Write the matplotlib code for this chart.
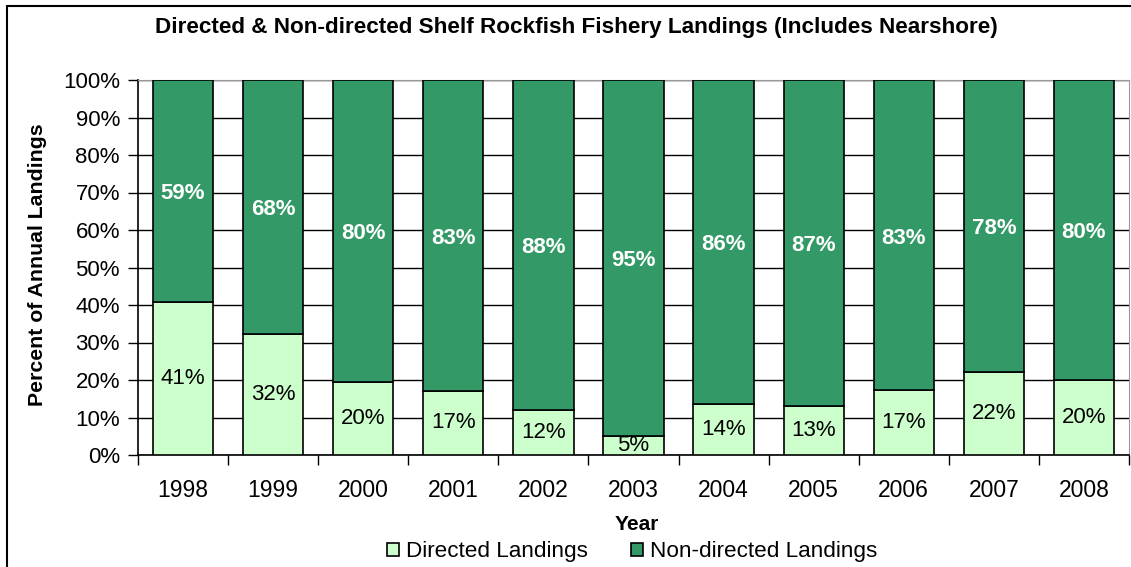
import matplotlib.pyplot as plt
import matplotlib.patches as mpatches
import numpy as np

plt.rcParams['font.family'] = ['Liberation Sans', 'DejaVu Sans']

# data (percent of annual landings)
years = ['1998', '1999', '2000', '2001', '2002', '2003', '2004', '2005', '2006', '2007', '2008']
directed = [40.8, 32.4, 19.6, 17.1, 12.1, 5.2, 13.6, 13.2, 17.3, 22.2, 20.0]
non_directed = [59.2, 67.6, 80.4, 82.9, 87.9, 94.8, 86.4, 86.8, 82.7, 77.8, 80.0]

light = '#CCFFCC'
dark = '#339966'

fig = plt.figure(figsize=(11.31, 5.67), dpi=100)
ax = fig.add_axes([138 / 1131, 112 / 567, 991 / 1131, 375 / 567])

x = np.arange(len(years))
b1 = ax.bar(x, directed, width=0.67, color=light, edgecolor='black', linewidth=1.2,
            label='Directed Landings', zorder=3)
b2 = ax.bar(x, non_directed, width=0.67, bottom=directed, color=dark, edgecolor='black',
            linewidth=1.2, label='Non-directed Landings', zorder=3)

# labels in the middle of each segment
for i in range(len(years)):
    ax.text(x[i], directed[i] / 2, '%d%%' % round(directed[i]), ha='center', va='center',
            fontsize=16, color='black', zorder=4)
    ax.text(x[i], directed[i] + non_directed[i] / 2 - 0.8, '%d%%' % round(non_directed[i]),
            ha='center', va='center', fontsize=16, color='white', fontweight='bold', zorder=4)

ax.set_xlim(-0.5, len(years) - 0.5)
ax.set_ylim(0, 100)
ax.set_yticks(range(0, 101, 10))
ax.set_yticklabels(['%d%%' % v for v in range(0, 101, 10)], fontsize=16)
ax.yaxis.grid(True, color='black', linewidth=1, zorder=0)
ax.set_axisbelow(True)

# year labels centred under bars, tick marks between categories
ax.set_xticks(x)
ax.set_xticklabels(years, fontsize=16.5)
ax.tick_params(axis='x', length=0, pad=17)
ax.set_xticks(np.arange(-0.5, len(years)), minor=True)
ax.tick_params(axis='x', which='minor', length=7, color='black', width=1)
ax.tick_params(axis='y', length=7, color='black', width=1, pad=6)

for s in ['top', 'right']:
    ax.spines[s].set_color('#999999')
for s in ['left', 'bottom']:
    ax.spines[s].set_color('black')
    ax.spines[s].set_linewidth(1.2)

fig.text(576 / 1131, 1 - 27 / 567, 'Directed & Non-directed Shelf Rockfish Fishery Landings (Includes Nearshore)',
         ha='center', va='center', fontsize=16.2, fontweight='bold')
fig.text(38 / 1131, 1 - 265 / 567, 'Percent of Annual Landings', rotation=90,
         ha='center', va='center', fontsize=15.3, fontweight='bold')
fig.text(637 / 1131, 1 - 524 / 567, 'Year', ha='center', va='center', fontsize=15, fontweight='bold')

leg = fig.legend(handles=[b1, b2], loc='center', bbox_to_anchor=(632 / 1131, 1 - 552 / 567),
                 ncol=2, frameon=False, fontsize=16.2, handlelength=0.55, handleheight=0.55,
                 handletextpad=0.3, columnspacing=1.9, borderpad=0)

# outer chart border (runs off the right and bottom edges)
fig.patches.append(mpatches.Rectangle((7 / 1131, -0.1), 2, 1 - 6 / 567 + 0.1,
                                      transform=fig.transFigure, fill=False,
                                      edgecolor='black', linewidth=1.5))

plt.savefig('out.png', dpi=100)
